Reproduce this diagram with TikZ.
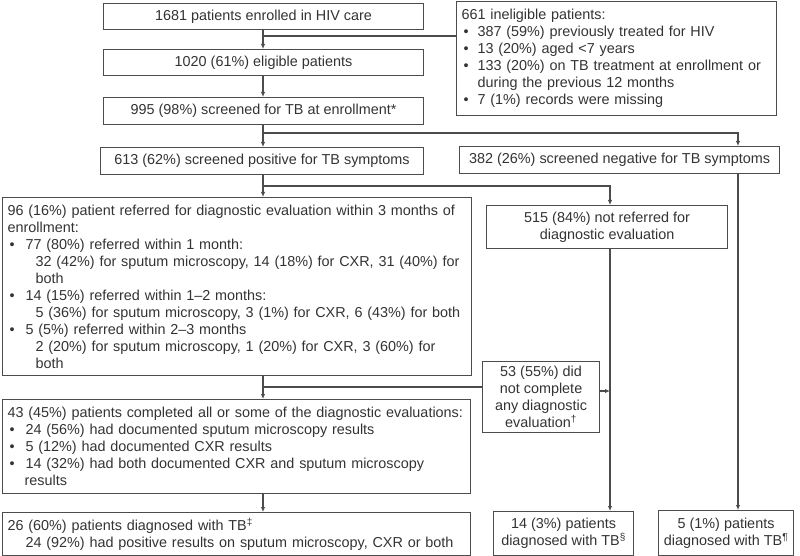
\documentclass[tikz,border=0pt]{standalone}
\usepackage{fontspec}
\setmainfont{Liberation Sans}
\usetikzlibrary{positioning, arrows.meta, calc}
\usepackage{xcolor}
\definecolor{ln}{gray}{0.3}
\definecolor{txt}{gray}{0.2}

% bullet line, continuation lines get \cont
\newcommand{\bitem}[2][18pt]{\par\hspace*{2pt}\makebox[\dimexpr#1-2pt\relax][l]{\textbullet}#2}
\newcommand{\cont}[1][18pt]{\newline\hspace*{#1}}
% indented sub line
\newcommand{\subln}[1]{\par{\leftskip=28pt\relax #1\par}}

\begin{document}
\begin{tikzpicture}[
    x=1pt, y=-1pt,
    box/.style={draw=ln, line width=1.1pt, text=txt, inner sep=0pt, anchor=north west,
        font=\fontsize{14.4pt}{17pt}\selectfont},
    cbox/.style={box, align=center},
    lbox/.style={box, align=left, inner xsep=5pt},
    conn/.style={draw=ln, line width=1.1pt},
    arr/.style={conn, -{Latex[length=5pt, width=4.5pt]}}
]
    \useasboundingbox (0,0) rectangle (800,556);

    % Enrollment and screening
    \node[cbox, minimum width=320pt, minimum height=26pt] (enr) at (103,3) {1681 patients enrolled in HIV care};
    \node[cbox, minimum width=320pt, minimum height=26pt] (elig) at (103,49) {1020 (61\%) eligible patients};
    \node[cbox, minimum width=320pt, minimum height=27pt] (scr) at (103,97) {995 (98\%) screened for TB at enrollment*};
    \node[cbox, minimum width=323pt, minimum height=27pt] (pos) at (100,147) {613 (62\%) screened positive for TB symptoms};
    \node[lbox, text width=310pt, minimum height=114pt] (inel) at (456,1) {661 ineligible patients:
        \bitem[16pt]{387 (59\%) previously treated for HIV}
        \bitem[16pt]{13 (20\%) aged <7 years}
        \bitem[16pt]{133 (20\%) on TB treatment at enrollment or\cont[16pt]during the previous 12 months}
        \bitem[16pt]{7 (1\%) records were missing}};
    \node[cbox, minimum width=320pt, minimum height=27pt] (neg) at (459,146) {382 (26\%) screened negative for TB symptoms};

    % Referral
    \node[lbox, text width=459pt, minimum height=178pt] (ref) at (2,197) {96 (16\%) patient referred for diagnostic evaluation within 3 months of\newline enrollment:
        \bitem{77 (80\%) referred within 1 month:}
        \subln{32 (42\%) for sputum microscopy, 14 (18\%) for CXR, 31 (40\%) for\newline both}
        \bitem{14 (15\%) referred within 1--2 months:}
        \subln{5 (36\%) for sputum microscopy, 3 (1\%) for CXR, 6 (43\%) for both}
        \bitem{5 (5\%) referred within 2--3 months}
        \subln{2 (20\%) for sputum microscopy, 1 (20\%) for CXR, 3 (60\%) for\newline both}};
    \node[cbox, minimum width=241pt, minimum height=43pt] (notref) at (486,205) {515 (84\%) not referred for\\diagnostic evaluation};

    % Evaluation
    \node[cbox, minimum width=117pt, minimum height=71pt] (notcomp) at (482,361) {53 (55\%) did\\not complete\\any diagnostic\\evaluation\textsuperscript{†}};
    \node[lbox, text width=458pt, minimum height=94pt] (comp) at (2,399) {43 (45\%) patients completed all or some of the diagnostic evaluations:
        \bitem{24 (56\%) had documented sputum microscopy results}
        \bitem{5 (12\%) had documented CXR results}
        \bitem{14 (32\%) had both documented CXR and sputum microscopy\cont[17pt]results}};

    % Diagnosed
    \node[lbox, text width=458pt, minimum height=43pt] (tb1) at (2,512) {26 (60\%) patients diagnosed with TB\textsuperscript{‡}\\
        \hspace*{18pt}24 (92\%) had positive results on sputum microscopy, CXR or both};
    \node[cbox, minimum width=140pt, minimum height=44pt] (tb2) at (493,511) {14 (3\%) patients\\diagnosed with TB\textsuperscript{§}};
    \node[cbox, minimum width=135pt, minimum height=45pt] (tb3) at (658,510) {5 (1\%) patients\\diagnosed with TB\textsuperscript{¶}};

    % Connectors
    \coordinate (spine) at (263,0);
    \coordinate (j1) at (263,36);
    \coordinate (j2) at (263,133);
    \coordinate (j3) at (263,186);
    \coordinate (j4) at (263,387);
    \coordinate (j5) at (610,391);
    \coordinate (negdrop) at (738,0);
    \coordinate (nrdrop) at (610,0);

    \draw[arr] (spine |- enr.south) -- (spine |- elig.north);
    \draw[conn] (j1) -- (j1 -| inel.west);
    \draw[arr] (spine |- elig.south) -- (spine |- scr.north);
    \draw[arr] (spine |- scr.south) -- (spine |- pos.north);
    \draw[arr] (j2) -| (negdrop |- neg.north);
    \draw[arr] (negdrop |- neg.south) -- (negdrop |- tb3.north);
    \draw[arr] (spine |- pos.south) -- (spine |- ref.north);
    \draw[arr] (j3) -| (nrdrop |- notref.north);
    \draw[arr] (nrdrop |- notref.south) -- (nrdrop |- tb2.north);
    \draw[arr] (spine |- ref.south) -- (spine |- comp.north);
    \draw[conn] (j4) -- (j4 -| notcomp.west);
    \draw[arr] (notcomp.east |- j5) -- (j5);
    \draw[arr] (spine |- comp.south) -- (spine |- tb1.north);

\end{tikzpicture}
\end{document}
